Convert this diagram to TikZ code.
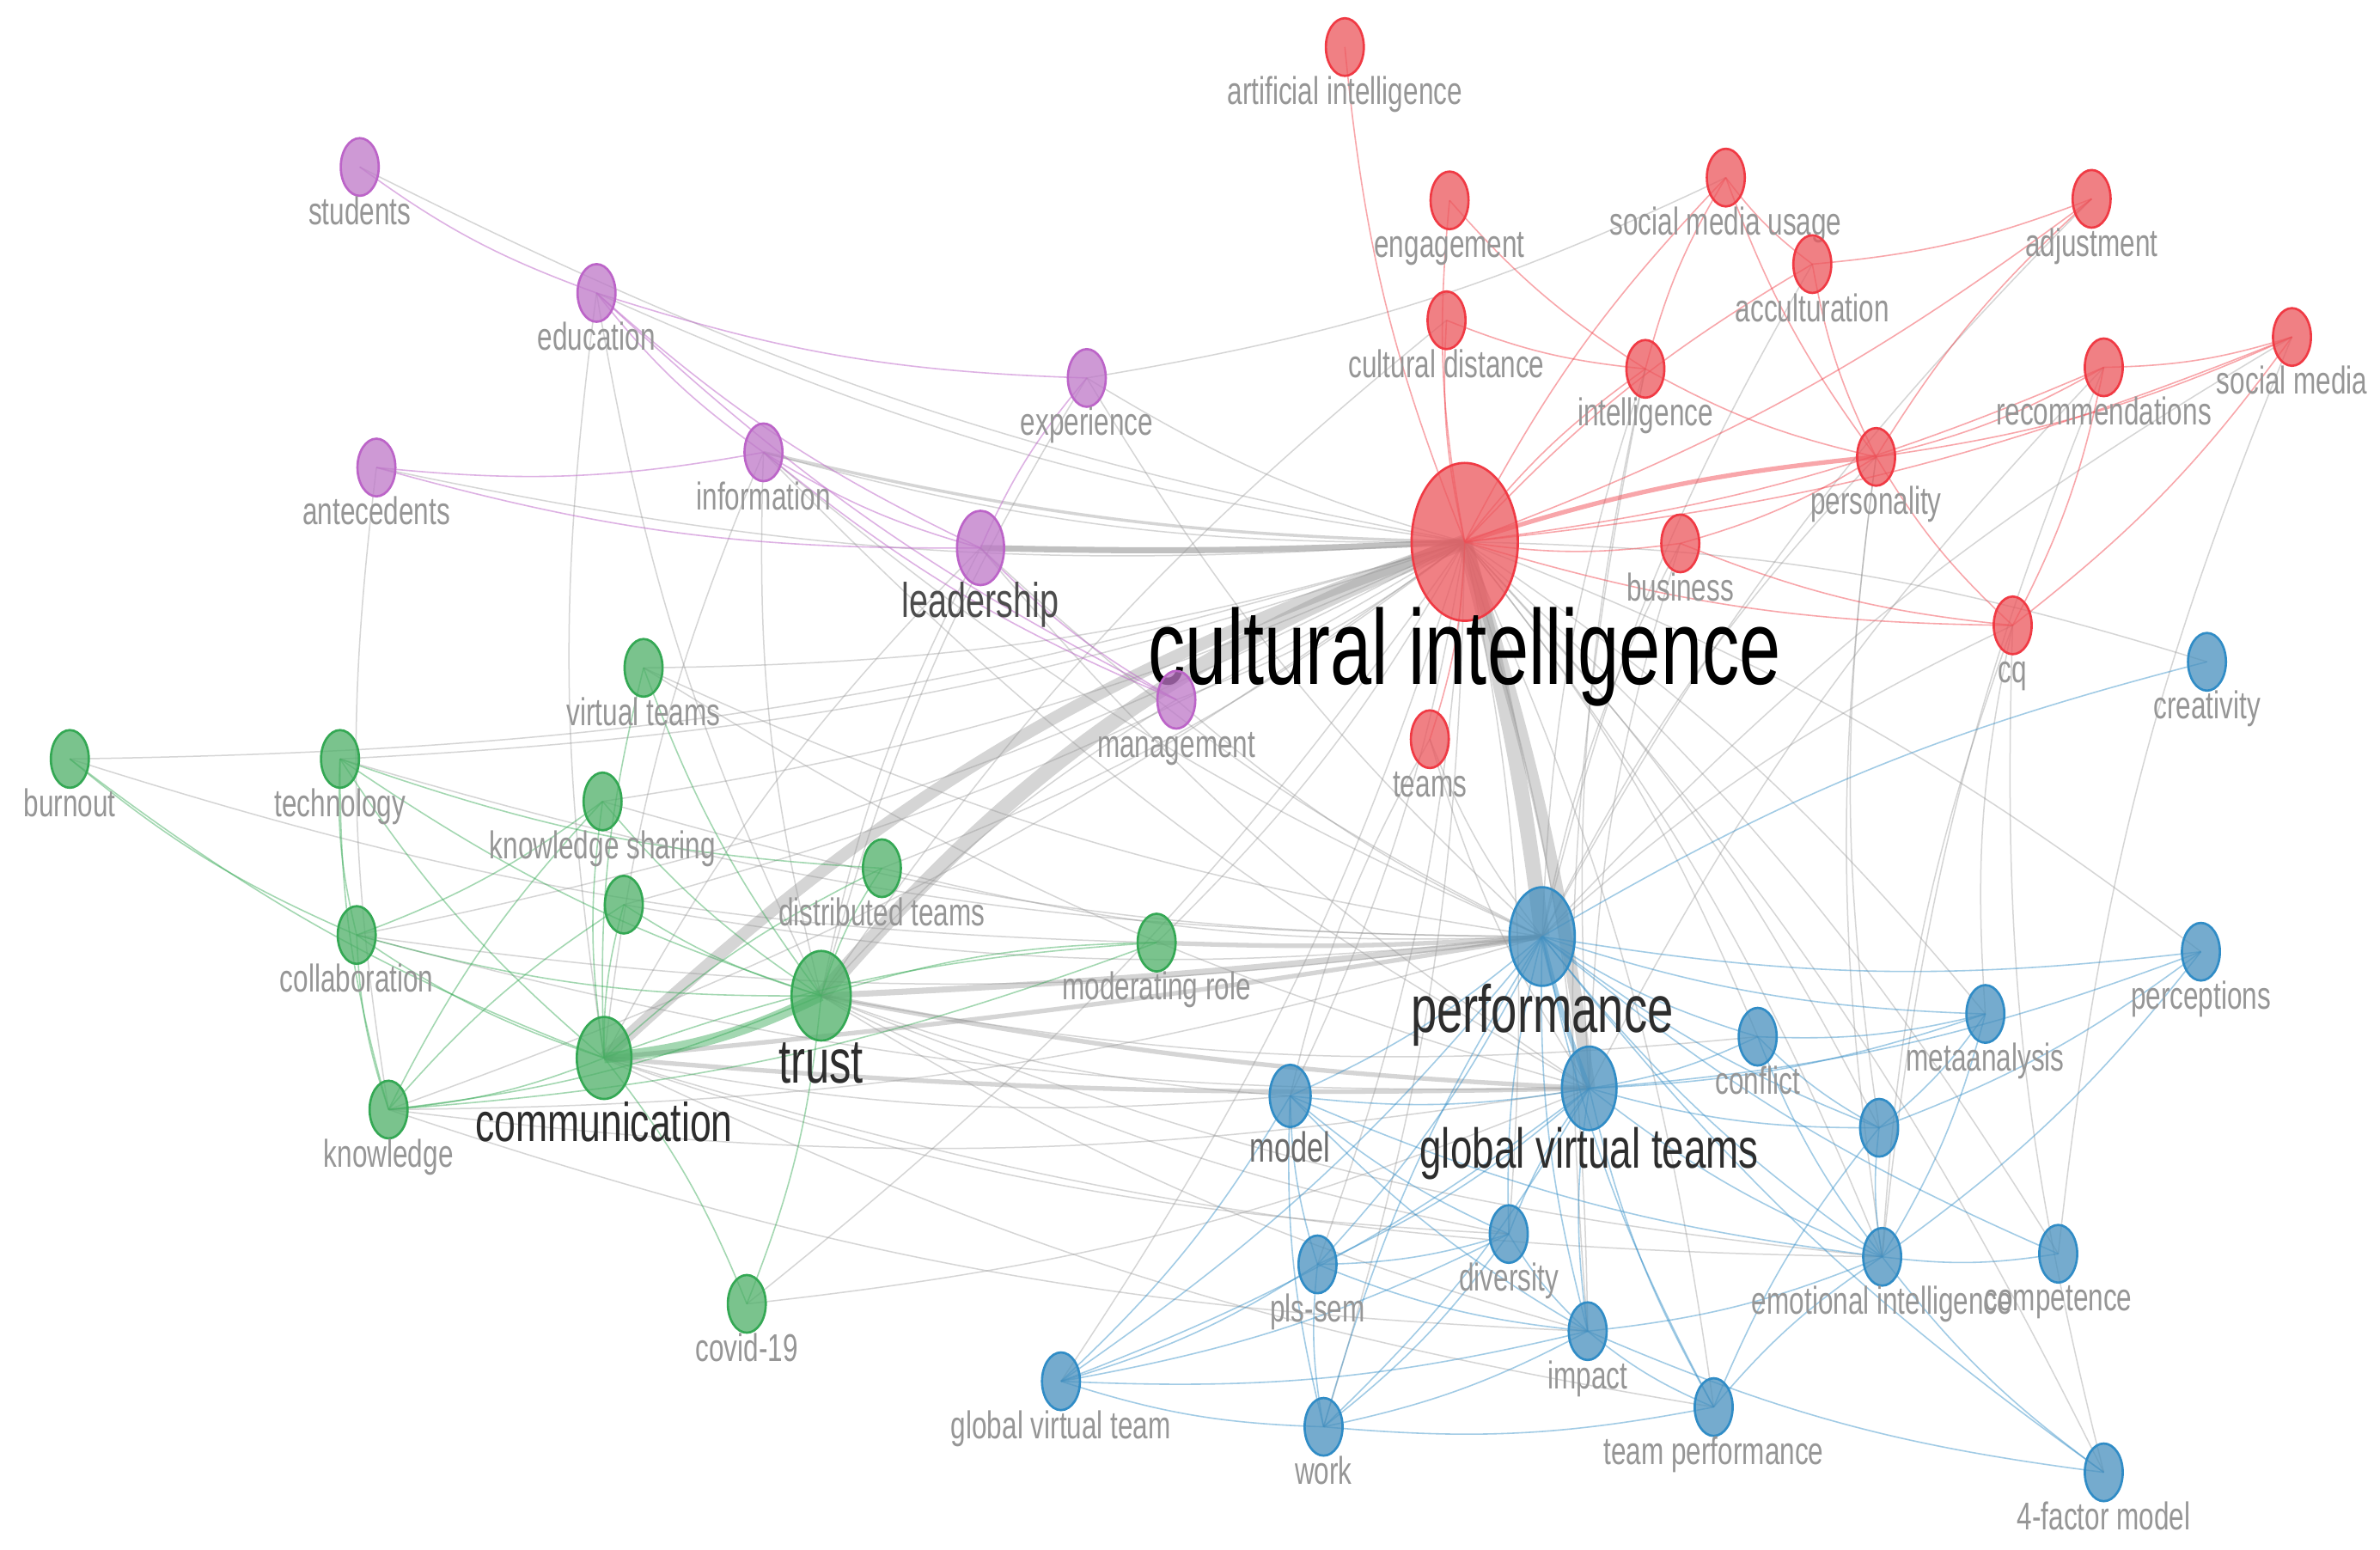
\documentclass[tikz,border=0pt]{standalone}
\usepackage{fontspec}
\setmainfont{Liberation Sans}[FakeStretch=0.7]
\usetikzlibrary{shapes.geometric,backgrounds}

\definecolor{redfill}{RGB}{236,86,92}
\definecolor{redline}{RGB}{240,58,68}
\definecolor{greenfill}{RGB}{78,176,104}
\definecolor{greenline}{RGB}{52,168,84}
\definecolor{bluefill}{RGB}{72,144,190}
\definecolor{blueline}{RGB}{48,140,198}
\definecolor{purplefill}{RGB}{190,120,200}
\definecolor{purpleline}{RGB}{188,100,200}
\definecolor{lblgray}{RGB}{150,150,150}
\definecolor{bigtext}{RGB}{45,45,45}
\definecolor{edgegray}{RGB}{150,150,150}

\begin{document}
\begin{tikzpicture}[x=1pt,y=-1pt,
  kw/.style={ellipse,inner sep=0pt,line width=1.5pt,fill opacity=.75},
  small/.style={kw,minimum width=25pt,minimum height=38pt,
                label={[lbl,yshift=-18pt]below:#1}},
  lbl/.style={anchor=base,text=lblgray,inner sep=0pt,fill opacity=1,text opacity=1,
              font=\fontsize{25.5}{26}\selectfont},
  rk/.style={draw=redline,fill=redfill},
  gk/.style={draw=greenline,fill=greenfill},
  bk/.style={draw=blueline,fill=bluefill},
  pk/.style={draw=purpleline,fill=purplefill},
  gl/.style={draw=edgegray,draw opacity=.4,line width=.85pt},
  rl/.style={draw=redline,draw opacity=.45,line width=.9pt},
  gnl/.style={draw=greenline,draw opacity=.45,line width=.9pt},
  bl/.style={draw=blueline,draw opacity=.45,line width=.9pt},
  pl/.style={draw=purpleline,draw opacity=.5,line width=.9pt}]

  % red cluster
  \node[kw,rk,minimum width=70pt,minimum height=104pt,
        label={[lbl,yshift=-41pt,text=black,font=\fontsize{70}{70}\selectfont]below:cultural intelligence}] (ci) at (965,357) {};
  \node[small=artificial intelligence,rk] (ai)       at (886,31)  {};
  \node[small=engagement,rk]              (engage)   at (955,132) {};
  \node[small=social media usage,rk]      (smu)      at (1137,117) {};
  \node[small=adjustment,rk]              (adjust)   at (1378,131) {};
  \node[small=acculturation,rk]           (accult)   at (1194,174) {};
  \node[small=cultural distance,rk]       (cdist)    at (953,211) {};
  \node[small=intelligence,rk]            (intel)    at (1084,243) {};
  \node[small=recommendations,rk]         (recomm)   at (1386,242) {};
  \node[small=social media,rk]            (smedia)   at (1510,222) {};
  \node[small=personality,rk]             (person)   at (1236,301) {};
  \node[small=business,rk]                (business) at (1107,358) {};
  \node[small=cq,rk]                      (cq)       at (1326,412) {};
  \node[small=teams,rk]                   (teams)    at (942,487) {};

  % purple cluster
  \node[small=students,pk]    (students) at (237,110) {};
  \node[small=education,pk]   (educ)     at (393,193) {};
  \node[small=experience,pk]  (exper)    at (716,249) {};
  \node[small=antecedents,pk] (antec)    at (248,308) {};
  \node[small=information,pk] (info)     at (503,298) {};
  \node[small=management,pk]  (manage)   at (775,461) {};
  \node[kw,pk,minimum width=31pt,minimum height=49pt,
        label={[lbl,yshift=-20.5pt,text=bigtext!85!white,font=\fontsize{32}{32}\selectfont]below:leadership}] (lead) at (646,361) {};

  % green cluster
  \node[small=virtual teams,gk]     (vteams)   at (424,440) {};
  \node[small=burnout,gk]           (burnout)  at (46,500)  {};
  \node[small=technology,gk]        (tech)     at (224,500) {};
  \node[small=knowledge sharing,gk] (ksharing) at (397,528) {};
  \node[small=distributed teams,gk] (dteams)   at (581,572) {};
  \node[kw,gk,minimum width=25pt,minimum height=38pt] (gx) at (411,596) {};
  \node[small=collaboration,gk]     (collab)   at (235,616) {};
  \node[small=moderating role,gk]   (modrole)  at (762,621) {};
  \node[small=knowledge,gk]         (knowl)    at (256,731) {};
  \node[small=covid-19,gk]          (covid)    at (492,859) {};
  \node[kw,gk,minimum width=39pt,minimum height=59pt,
        label={[lbl,yshift=-27.5pt,text=bigtext,font=\fontsize{41}{41}\selectfont]below:trust}] (trust) at (541,656) {};
  \node[kw,gk,minimum width=36pt,minimum height=54pt,
        label={[lbl,yshift=-27pt,text=bigtext,font=\fontsize{36}{36}\selectfont]below:communication}] (comm) at (398,697) {};

  % blue cluster
  \node[small=creativity,bk]             (creat)    at (1454,436) {};
  \node[small=perceptions,bk]            (percep)   at (1450,627) {};
  \node[small=metaanalysis,bk]           (meta)     at (1308,668) {};
  \node[small=conflict,bk]               (conflict) at (1158,683) {};
  \node[kw,bk,minimum width=25pt,minimum height=38pt] (bx) at (1238,743) {};
  \node[small=diversity,bk]              (divers)   at (994,813) {};
  \node[small=pls-sem,bk]                (pls)      at (868,833) {};
  \node[small=emotional intelligence,bk] (emoint)   at (1240,828) {};
  \node[small=competence,bk]             (compet)   at (1356,826) {};
  \node[small=impact,bk]                 (impact)   at (1046,877) {};
  \node[small=global virtual team,bk]    (gvt)      at (699,910) {};
  \node[small=work,bk]                   (work)     at (872,940) {};
  \node[small=team performance,bk]       (tperf)    at (1129,927) {};
  \node[small=4-factor model,bk]         (fourfac)  at (1386,970) {};
  \node[kw,bk,minimum width=27pt,minimum height=41pt,
        label={[lbl,yshift=-22.5pt,text=bigtext!70!white,font=\fontsize{27.8}{28}\selectfont]below:model}] (model) at (850,722) {};
  \node[kw,bk,minimum width=43pt,minimum height=65pt,
        label={[lbl,yshift=-30pt,text=bigtext,font=\fontsize{44}{44}\selectfont]below:performance}] (perf) at (1016,617) {};
  \node[kw,bk,minimum width=36pt,minimum height=55pt,
        label={[lbl,yshift=-24.5pt,text=bigtext,font=\fontsize{37}{37}\selectfont]below:global virtual teams}] (gvts) at (1047,717) {};

  \begin{scope}[on background layer]
    \fill[white] (0,0) rectangle (1568,1021);
    % links between clusters
    \foreach \a/\b in {students/ci,educ/ci,educ/trust,educ/comm,antec/ci,antec/knowl,
        info/ci,info/trust,info/comm,info/gvts,info/perf,exper/ci,exper/smu,exper/trust,exper/perf,
        lead/trust,lead/comm,lead/perf,lead/gvts,manage/ci,manage/perf,manage/trust,
        burnout/ci,burnout/modrole,tech/ci,tech/perf,vteams/ci,vteams/perf,vteams/gvts,
        ksharing/ci,ksharing/perf,dteams/ci,dteams/perf,gx/ci,gx/perf,collab/ci,collab/perf,collab/gvts,
        modrole/ci,trust/model,trust/impact,trust/emoint,trust/divers,trust/conflict,
        comm/model,comm/divers,comm/tperf,comm/emoint,knowl/ci,knowl/gvts,knowl/perf,knowl/impact,
        covid/ci,covid/gvts,model/ci,conflict/ci,meta/ci,bx/ci,emoint/ci,compet/ci,divers/ci,
        pls/ci,impact/ci,work/ci,gvt/ci,tperf/ci,percep/ci,creat/ci,fourfac/ci,
        teams/perf,teams/gvts,teams/model,person/bx,person/emoint,person/perf,
        cq/meta,cq/emoint,cq/perf,cq/fourfac,smedia/compet,smedia/perf,recomm/gvts,recomm/emoint,
        adjust/perf,intel/perf,intel/gvts,intel/impact,business/perf,business/gvts,cdist/trust,accult/perf}
      \draw[gl] (\a.center) to[bend right=8] (\b.center);
    \draw[gl,line width=10pt] (ci.center) to[bend right=14] (trust.center);
    \draw[gl,line width=8pt] (ci.center) to[bend right=12] (comm.center);
    \draw[gl,line width=10pt] (perf.center) to[bend right=4] (ci.center);
    \draw[gl,line width=8pt] (gvts.center) to[bend right=5] (ci.center);
    \draw[gl,line width=4pt,draw opacity=.6] (lead.center) to[bend right=2] (ci.center);
    \draw[gl,line width=4pt] (trust.center) to[bend right=2] (perf.center);
    \draw[gl,line width=3pt] (trust.center) to[bend right=4] (gvts.center);
    \draw[gl,line width=3pt] (comm.center) to[bend right=3] (gvts.center);
    \draw[gl,line width=3pt] (comm.center) to[bend right=2] (perf.center);
    \draw[gl,line width=3pt] (modrole.center) to[bend right=3] (perf.center);
    \draw[gl,line width=2pt] (info.center) to[bend right=6] (ci.center);

    % red links
    \foreach \a/\b in {ai/ci,engage/ci,engage/intel,cdist/ci,cdist/intel,intel/ci,smu/intel,smu/ci,
        smu/person,smu/accult,accult/adjust,accult/ci,accult/person,adjust/person,ci/adjust,
        person/recomm,person/smedia,person/cq,ci/business,business/cq,business/person,
        recomm/smedia,cq/smedia,cq/recomm,intel/person,ci/recomm,ci/smedia,teams/ci,ci/cq}
      \draw[rl] (\a.center) to[bend right=8] (\b.center);
    \draw[rl,line width=3pt] (ci.center) to[bend left=6] (person.center);

    % purple links
    \foreach \a/\b in {students/educ,educ/exper,educ/info,educ/lead,antec/info,antec/lead,
        info/lead,exper/lead,lead/manage,info/manage,educ/manage}
      \draw[pl] (\a.center) to[bend right=8] (\b.center);

    % green links
    \foreach \a/\b in {burnout/collab,burnout/comm,tech/collab,tech/comm,tech/trust,tech/dteams,
        tech/knowl,collab/comm,collab/trust,collab/knowl,collab/ksharing,ksharing/comm,ksharing/trust,
        ksharing/knowl,vteams/comm,vteams/trust,gx/comm,gx/trust,gx/knowl,dteams/comm,dteams/trust,
        modrole/trust,modrole/comm,knowl/comm,knowl/trust,covid/comm,covid/trust,knowl/modrole}
      \draw[gnl] (\a.center) to[bend right=8] (\b.center);
    \draw[gnl,line width=7pt] (comm.center) to[bend right=10] (trust.center);

    % blue links
    \foreach \a/\b in {model/perf,perf/conflict,perf/meta,perf/percep,perf/bx,perf/emoint,
        perf/compet,perf/divers,perf/impact,perf/work,gvt/perf,pls/perf,perf/tperf,creat/perf,
        perf/fourfac,model/gvts,gvts/conflict,gvts/bx,gvts/divers,gvts/impact,gvts/emoint,
        gvts/tperf,gvts/meta,work/gvts,pls/gvts,gvts/percep,gvt/gvts,model/pls,model/work,
        gvt/model,model/divers,model/impact,model/emoint,emoint/compet,impact/emoint,
        emoint/tperf,bx/emoint,emoint/meta,emoint/fourfac,emoint/percep,bx/meta,bx/percep,
        conflict/bx,bx/tperf,impact/tperf,work/impact,gvt/impact,divers/impact,gvt/work,
        gvt/pls,gvt/divers,work/tperf,work/divers,pls/work,pls/divers,pls/impact,
        conflict/meta,conflict/emoint,impact/fourfac}
      \draw[bl] (\a.center) to[bend right=8] (\b.center);
    \draw[bl,line width=3pt] (perf.center) to[bend right=4] (gvts.center);
  \end{scope}
  \useasboundingbox (0,0) rectangle (1568,1021);
\end{tikzpicture}
\end{document}
